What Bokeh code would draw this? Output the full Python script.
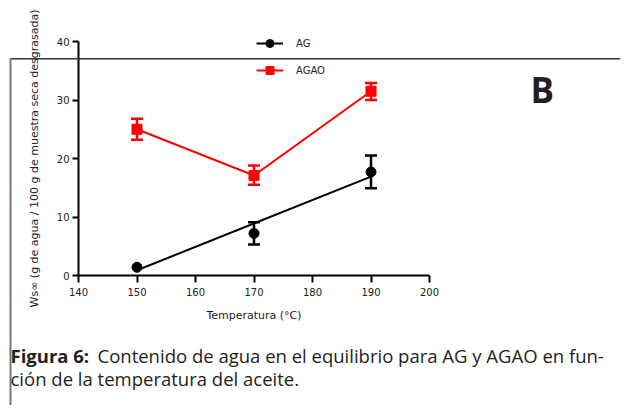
from bokeh.plotting import figure
from bokeh.models import (Range1d, FixedTicker, Label, Arrow, Whisker, TeeHead,
                          ColumnDataSource, Legend, LegendItem)
from bokeh.embed import file_html
from bokeh.resources import INLINE

# ---- data ----
temps = [150, 170, 190]
ag = [1.4, 7.2, 17.7]
ag_lo = [1.4, 5.3, 14.9]
ag_hi = [1.4, 9.1, 20.5]
ag_fit_x = [150, 190]
ag_fit_y = [0.9, 16.9]
agao = [25.0, 17.1, 31.5]
agao_lo = [23.2, 15.5, 30.0]
agao_hi = [26.8, 18.8, 32.9]
x_ticks = [140, 150, 160, 170, 180, 190, 200]
y_ticks = [0, 10, 20, 30, 40]
series_names = ["AG", "AGAO"]
x_label = "Temperatura (°C)"
y_label = "Ws∞ (g de agua / 100 g de muestra seca desgrasada)"
caption_bold = "Figura 6:"
caption_line1 = "Contenido de agua en el equilibrio para AG y AGAO en fun-"
caption_line2 = "ción de la temperatura del aceite."
panel_letter = "B"

# ---- layout: the frame fills the canvas, axes are pinned inside it ----
W, H = 620, 405
X0_PX, X1_PX = 78, 429     # pixel positions of x = 140 and x = 200
Y0_PX, Y1_PX = 275, 41     # pixel positions of y = 0 and y = 40
kx = (X1_PX - X0_PX) / (x_ticks[-1] - x_ticks[0])
ky = (Y0_PX - Y1_PX) / (y_ticks[-1] - y_ticks[0])
x_start = x_ticks[0] - X0_PX / kx
x_end = x_ticks[0] + (W - X0_PX) / kx
y_start = y_ticks[0] - (H - Y0_PX) / ky
y_end = y_ticks[0] + Y0_PX / ky

p = figure(width=W, height=H, output_backend="svg", toolbar_location=None,
           x_range=Range1d(x_start, x_end), y_range=Range1d(y_start, y_end),
           min_border=0)
p.outline_line_color = None
p.xgrid.visible = False
p.ygrid.visible = False
p.background_fill_color = "white"
p.border_fill_color = "white"

tick_font = "DejaVu Sans"
txt_col = "#222222"
for ax in (p.xaxis[0], p.yaxis[0]):
    ax.axis_line_width = 2
    ax.axis_line_color = "black"
    ax.major_tick_line_width = 2
    ax.major_tick_line_color = "black"
    ax.major_tick_in = 0
    ax.minor_tick_line_color = None
    ax.major_label_text_font = tick_font
    ax.major_label_text_font_size = "10px"
    ax.major_label_text_color = txt_col
    ax.axis_label_text_font = tick_font
    ax.axis_label_text_font_style = "normal"
    ax.axis_label_text_color = txt_col

p.xaxis.ticker = FixedTicker(ticks=x_ticks)
p.yaxis.ticker = FixedTicker(ticks=y_ticks)
p.xaxis.bounds = (x_ticks[0], x_ticks[-1])
p.yaxis.bounds = (y_ticks[0], y_ticks[-1])
p.xaxis.fixed_location = y_ticks[0]
p.yaxis.fixed_location = x_ticks[0]
p.xaxis.major_tick_out = 7
p.xaxis.major_label_standoff = 5
p.xaxis.axis_label = x_label
p.xaxis.axis_label_text_font_size = "11px"
p.xaxis.axis_label_standoff = 10
p.yaxis.major_tick_out = 6
p.yaxis.major_label_standoff = 3
p.yaxis.axis_label = y_label
p.yaxis.axis_label_text_font_size = "11px"
p.yaxis.axis_label_standoff = 13

# ---- series ----
red = "#ff0000"
fit = p.line(ag_fit_x, ag_fit_y, line_color="black", line_width=2)
ag_pts = p.scatter(temps, ag, marker="circle", size=10, fill_color="black", line_color="black")
keep = [i for i in range(len(temps)) if ag_hi[i] > ag_lo[i]]
ag_err = ColumnDataSource(dict(x=[temps[i] for i in keep],
                               lo=[ag_lo[i] for i in keep],
                               hi=[ag_hi[i] for i in keep]))
p.add_layout(Whisker(base="x", lower="lo", upper="hi", source=ag_err,
                     line_color="black", line_width=2.5,
                     upper_head=TeeHead(size=12, line_width=2.5, line_color="black"),
                     lower_head=TeeHead(size=12, line_width=2.5, line_color="black")))

agao_line = p.line(temps, agao, line_color=red, line_width=2)
agao_pts = p.scatter(temps, agao, marker="square", size=10, fill_color=red, line_color=red)
agao_err = ColumnDataSource(dict(x=temps, lo=agao_lo, hi=agao_hi))
p.add_layout(Whisker(base="x", lower="lo", upper="hi", source=agao_err,
                     line_color=red, line_width=2.5,
                     upper_head=TeeHead(size=12, line_width=2.5, line_color=red),
                     lower_head=TeeHead(size=12, line_width=2.5, line_color=red)))


# screen units (relative to the frame, which is the whole canvas)
def sx(x):
    return x


def sy(y):
    return H - y


legend = Legend(items=[LegendItem(label=series_names[0], renderers=[fit, ag_pts]),
                       LegendItem(label=series_names[1], renderers=[agao_line, agao_pts])],
                location=(sx(256), sy(80.3)), padding=0, margin=0,
                border_line_color=None, background_fill_alpha=0,
                glyph_width=27, glyph_height=20, label_height=20, spacing=7,
                label_standoff=13, label_text_font=tick_font,
                label_text_font_size="10px", label_text_color=txt_col)
p.add_layout(legend)

# ---- page decorations ----
p.add_layout(Arrow(start=None, end=None, x_start=sx(10), y_start=sy(58.3),
                   x_end=sx(W + 10), y_end=sy(58.3), start_units="screen", end_units="screen",
                   line_color="#333333", line_width=1.5))
p.add_layout(Arrow(start=None, end=None, x_start=sx(10), y_start=sy(58.3),
                   x_end=sx(10), y_end=sy(H + 10), start_units="screen", end_units="screen",
                   line_color="#777777", line_width=2))

p.add_layout(Label(x=sx(530), y=sy(88.5), x_units="screen", y_units="screen",
                   text=panel_letter, text_font="Open Sans", text_font_style="bold",
                   text_font_size="35px", text_color="#231f20",
                   text_baseline="middle", text_align="left"))

cap_font = "Open Sans"
cap_size = "18.5px"
p.add_layout(Label(x=sx(10), y=sy(355), x_units="screen", y_units="screen",
                   text=caption_bold, text_font=cap_font, text_font_style="bold",
                   text_font_size=cap_size, text_color="#231f20",
                   text_baseline="middle", text_align="left"))
p.add_layout(Label(x=sx(97), y=sy(355), x_units="screen", y_units="screen",
                   text=caption_line1, text_font=cap_font,
                   text_font_size=cap_size, text_color="#231f20",
                   text_baseline="middle", text_align="left"))
p.add_layout(Label(x=sx(10), y=sy(378), x_units="screen", y_units="screen",
                   text=caption_line2, text_font=cap_font,
                   text_font_size=cap_size, text_color="#231f20",
                   text_baseline="middle", text_align="left"))

open("out.html", "w").write(file_html(p, INLINE))
